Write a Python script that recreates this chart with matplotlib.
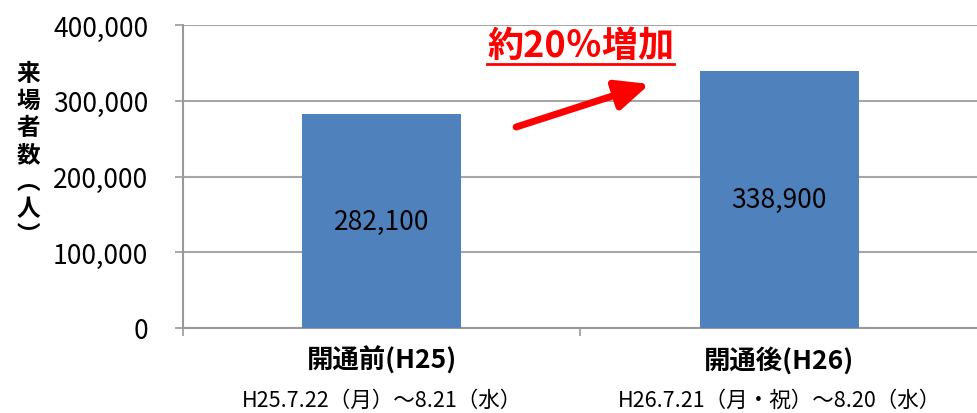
import matplotlib
matplotlib.use("Agg")
import matplotlib.pyplot as plt
from matplotlib.lines import Line2D
from matplotlib.ticker import FuncFormatter
import matplotlib.transforms as mtrans

plt.rcParams['font.family'] = ['Noto Sans CJK JP', 'DejaVu Sans']

categories = ["開通前(H25)", "開通後(H26)"]
periods = ["H25.7.22（月）～8.21（水）", "H26.7.21（月・祝）～8.20（水）"]
values = [282100, 338900]
ylabel = "来\n場\n者\n数\n︵\n人\n︶"
annotation = "約20％増加"

fig = plt.figure(figsize=(9.78, 4.14), dpi=100)
ax = fig.add_axes([183/978, 1-329/414, 1-183/978, (329-26)/414])

x = list(range(len(categories)))
ax.bar(x, values, width=0.4, color="#4F81BD", zorder=3)
for xi, v in zip(x, values):
    ax.text(xi, v/2, f"{v:,}", ha="center", va="center", fontsize=19, color="black", zorder=4)

ax.set_ylim(0, 400000)
ax.set_xlim(-0.5, 1.478)
ax.set_yticks([0, 100000, 200000, 300000, 400000])
ax.yaxis.set_major_formatter(FuncFormatter(lambda v, p: f"{int(v):,}"))
ax.tick_params(axis='y', labelsize=19, length=6, color="#999999", width=1.2, pad=19)
ax.set_xticks([-0.5, 0.5, 1.5])
ax.set_xticklabels([])
ax.tick_params(axis='x', length=6, color="#999999", width=1.2)
ax.grid(axis='y', color="#A6A6A6", linewidth=1.5, zorder=0)
for s in ['top', 'right']:
    ax.spines[s].set_visible(False)
for s in ['left', 'bottom']:
    ax.spines[s].set_color("#999999")
    ax.spines[s].set_linewidth(1.5)

trans = mtrans.blended_transform_factory(ax.transData, fig.transFigure)
for xi, c, p in zip(x, categories, periods):
    ax.text(xi, 1-361/414, c, transform=trans, ha="center", va="center", fontsize=19, fontweight="bold")
    ax.text(xi, 1-401/414, p, transform=trans, ha="center", va="center", fontsize=15.5)

fig.text(28/978, 1-155/414, ylabel, ha="center", va="center", fontsize=17, fontweight="bold", linespacing=1.15)

ax.annotate("", xy=(0.674, 322100), xytext=(0.338, 265300),
            arrowprops=dict(arrowstyle="-|>,head_length=2.0,head_width=0.9", color="#FF0000", lw=5, shrinkA=0, shrinkB=0), zorder=5)

t = ax.text(0.5, (329-47)/303*400000, annotation, ha="center", va="center", fontsize=26, color="#FF0000", fontweight="bold", zorder=5)
fig.canvas.draw()
bb = t.get_window_extent()
y_ul = 414 - 65
fig.add_artist(Line2D([bb.x0/978, bb.x1/978], [y_ul/414, y_ul/414], color="#FF0000", lw=2, transform=fig.transFigure))

fig.savefig("out.png", dpi=100)
